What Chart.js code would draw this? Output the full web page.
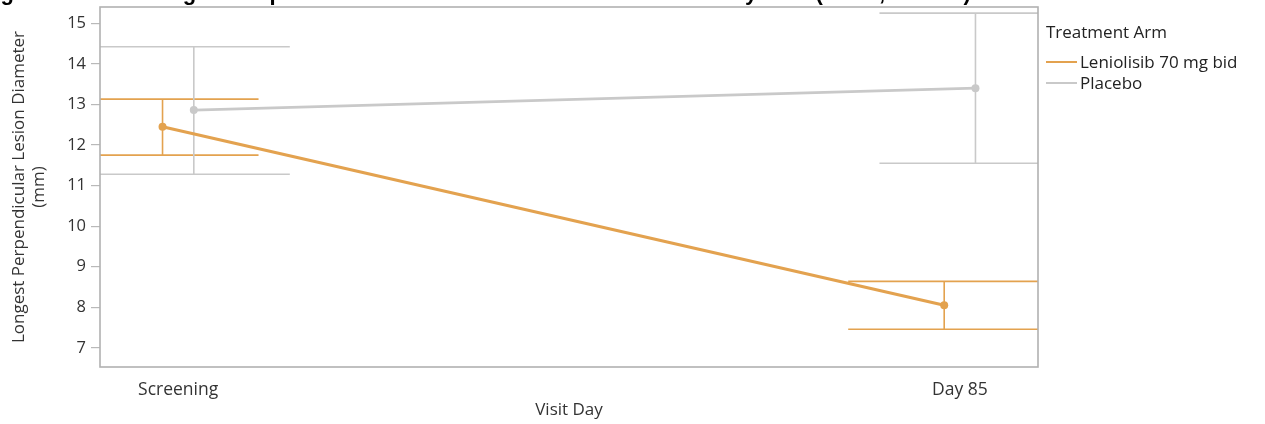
<!DOCTYPE html>
<html>
<head>
<meta charset="utf-8">
<script src="https://cdn.jsdelivr.net/npm/chart.js@4.4.0/dist/chart.umd.min.js"></script>
<style>
  html, body { margin: 0; padding: 0; background: #fff; overflow: hidden; }
  #wrap { position: relative; width: 1265px; height: 424px; }
  #fig-title {
    position: absolute; left: -19px; top: -20px; white-space: nowrap;
    font: bold 22px "Liberation Sans", Arial, sans-serif; color: #000;
  }
  #legend {
    position: absolute; left: 1046px; top: 19px;
    font: 17px "Open Sans", sans-serif; color: #222;
  }
  #legend .head { height: 26px; line-height: 26px; margin-bottom: 6px; }
  #legend .item { height: 21px; line-height: 21px; display: flex; align-items: center; }
  #legend .swatch { width: 31px; height: 0; margin-right: 3px; }
  canvas { position: absolute; left: 0; top: 0; }
</style>
</head>
<body>
<div id="wrap">
  <canvas id="chart" width="1265" height="424"></canvas>
  <div id="fig-title">Figure 2: Mean Longest Perpendicular Lesion Diameter of Index Lesion by Visit (Mean, 95% CI)</div>
  <div id="legend"></div>
</div>
<script>
// visits and treatment arms
const visits = ["Screening", "Day 85"];
const arms = ["Leniolisib 70 mg bid", "Placebo"];

// mean and 95% CI per visit (mm)
const lenioMean = [12.45, 8.05];
const lenioLower = [11.75, 7.46];
const lenioUpper = [13.13, 8.64];
const placeboMean = [12.86, 13.40];
const placeboLower = [11.28, 11.55];
const placeboUpper = [14.42, 15.25];

const yTicks = [7, 8, 9, 10, 11, 12, 13, 14, 15];

const ORANGE = "#e3a24f";
const GREY = "#c9c9c9";
const DODGE = 0.02;      // horizontal shift of each arm around its visit
const CAP_HALF = 96;     // half width of the CI caps, px

const series = [
  { label: arms[0], mean: lenioMean, lo: lenioLower, hi: lenioUpper, color: ORANGE, shift: -DODGE, width: 3.2 },
  { label: arms[1], mean: placeboMean, lo: placeboLower, hi: placeboUpper, color: GREY, shift: DODGE, width: 2.6 }
];

// legend
const legendEl = document.getElementById("legend");
legendEl.innerHTML = '<div class="head">Treatment Arm</div>' +
  series.map(s => `<div class="item"><span class="swatch" style="border-top:2.5px solid ${s.color}"></span>${s.label}</div>`).join("");

// CI whiskers and caps, clipped to the plot box
const errorBars = {
  id: "errorBars",
  beforeDatasetsDraw(chart) {
    const { ctx, chartArea, scales } = chart;
    ctx.save();
    ctx.beginPath();
    ctx.rect(chartArea.left, chartArea.top, chartArea.right - chartArea.left, chartArea.bottom - chartArea.top);
    ctx.clip();
    series.forEach(s => {
      ctx.strokeStyle = s.color;
      ctx.lineWidth = 1.6;
      s.mean.forEach((m, i) => {
        const x = scales.x.getPixelForValue(i + s.shift);
        const yHi = scales.y.getPixelForValue(s.hi[i]);
        const yLo = scales.y.getPixelForValue(s.lo[i]);
        ctx.beginPath();
        ctx.moveTo(x, yHi); ctx.lineTo(x, yLo);
        ctx.moveTo(x - CAP_HALF, yHi); ctx.lineTo(x + CAP_HALF, yHi);
        ctx.moveTo(x - CAP_HALF, yLo); ctx.lineTo(x + CAP_HALF, yLo);
        ctx.stroke();
      });
    });
    ctx.restore();
  }
};

// grey frame round the plot area
const plotFrame = {
  id: "plotFrame",
  afterDraw(chart) {
    const { ctx, chartArea } = chart;
    ctx.save();
    ctx.strokeStyle = "#b1b1b1";
    ctx.lineWidth = 1.6;
    ctx.strokeRect(chartArea.left, chartArea.top, chartArea.right - chartArea.left, chartArea.bottom - chartArea.top);
    ctx.restore();
  }
};

new Chart(document.getElementById("chart"), {
  type: "line",
  data: {
    datasets: series.map(s => ({
      label: s.label,
      data: s.mean.map((m, i) => ({ x: i + s.shift, y: m })),
      borderColor: s.color,
      backgroundColor: s.color,
      borderWidth: s.width,
      pointRadius: 4,
      pointBorderWidth: 0,
      tension: 0
    }))
  },
  options: {
    responsive: false,
    animation: false,
    layout: { padding: { top: 7, right: 227, left: 0, bottom: 0 } },
    plugins: { legend: { display: false }, tooltip: { enabled: false } },
    scales: {
      x: {
        type: "linear",
        min: -0.1,
        max: 1.1,
        afterBuildTicks: scale => { scale.ticks = visits.map((v, i) => ({ value: i })); },
        afterFit: scale => { scale.height = 57; scale.paddingLeft = 0; scale.paddingRight = 0; },
        grid: { display: false },
        border: { display: false },
        ticks: {
          padding: 5,
          color: "#333",
          font: { family: "Open Sans", size: 17.5 },
          callback: v => visits[v]
        },
        title: {
          display: true,
          text: "Visit Day",
          color: "#333",
          font: { family: "Open Sans", size: 17, lineHeight: 1.2 },
          padding: { top: 0, bottom: 4 }
        }
      },
      y: {
        min: 6.53,
        max: 15.4,
        afterBuildTicks: scale => { scale.ticks = yTicks.map(v => ({ value: v })); },
        afterFit: scale => { scale.width = 100; scale.paddingTop = 0; scale.paddingBottom = 0; },
        grid: { drawOnChartArea: false, drawTicks: true, tickLength: 9, color: "#b9b9b9", lineWidth: 1.2 },
        border: { display: false },
        ticks: { padding: 5, color: "#333", font: { family: "Open Sans", size: 16.5 } },
        title: {
          display: true,
          text: ["Longest Perpendicular Lesion Diameter", "(mm)"],
          color: "#333",
          font: { family: "Open Sans", size: 17, lineHeight: 1.2 },
          padding: { top: 9, bottom: 0 }
        }
      }
    }
  },
  plugins: [errorBars, plotFrame]
});
</script>
</body>
</html>
